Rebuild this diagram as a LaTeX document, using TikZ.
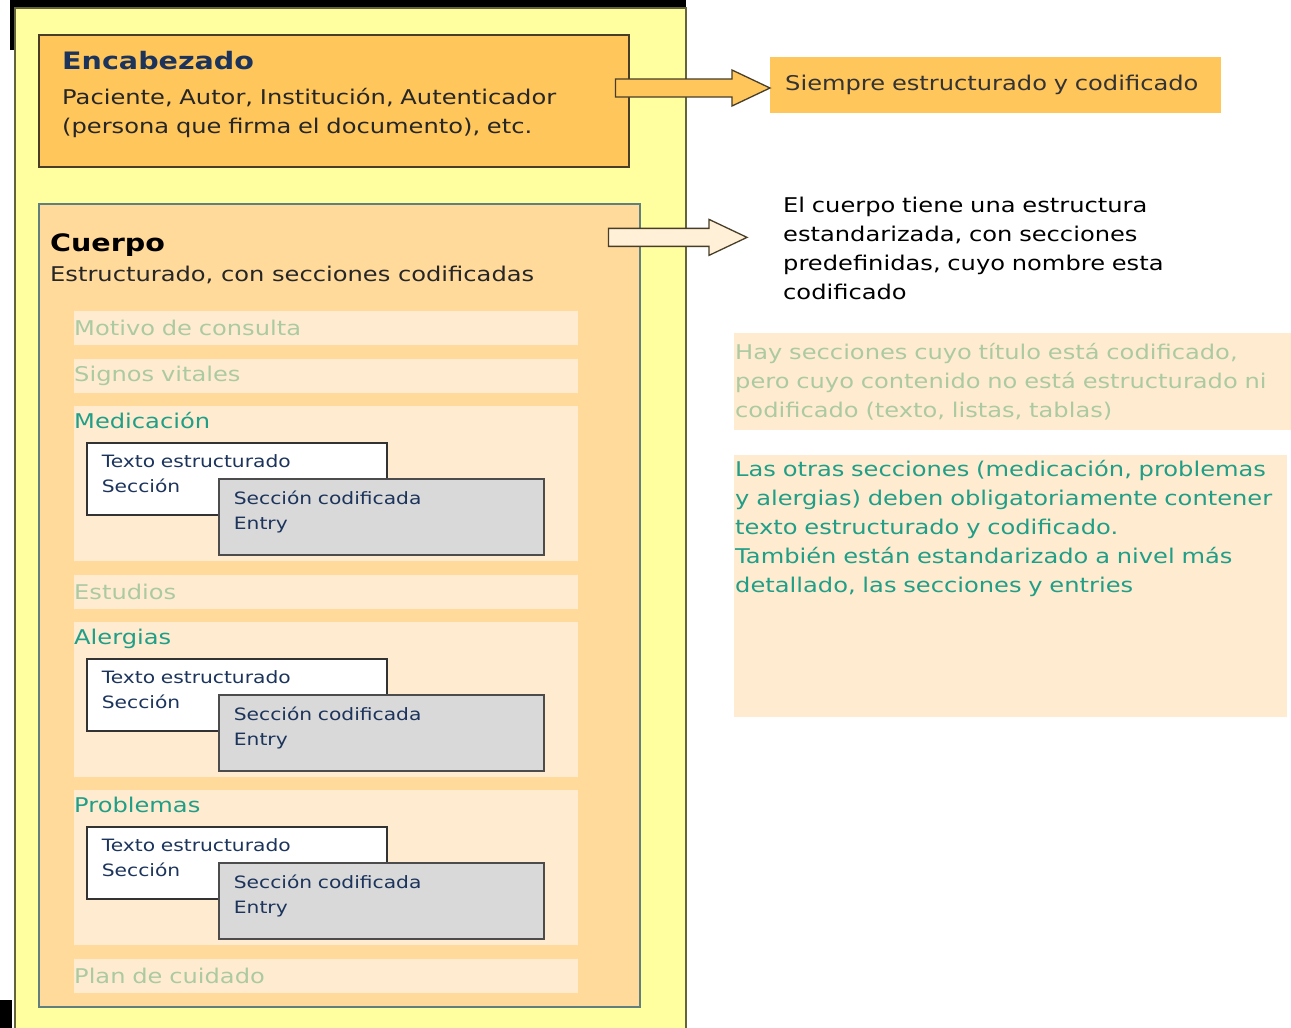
\documentclass[tikz,border=0pt]{standalone}
\usepackage{fontspec}
\setmainfont[FakeStretch=1.19]{DejaVu Sans}
\usetikzlibrary{positioning, calc}

\definecolor{pageyellow}{RGB}{255,255,160}
\definecolor{headorange}{RGB}{255,198,92}
\definecolor{bodyorange}{RGB}{255,218,155}
\definecolor{cream}{RGB}{255,236,208}
\definecolor{lightarrow}{RGB}{255,240,215}
\definecolor{paletext}{RGB}{172,202,162}
\definecolor{tealtext}{RGB}{32,158,135}
\definecolor{navytext}{RGB}{28,52,92}
\definecolor{boxgray}{RGB}{217,217,217}
\definecolor{edgebrown}{RGB}{72,62,40}
\definecolor{edgeteal}{RGB}{96,128,128}
\definecolor{edgeolive}{RGB}{100,100,60}

% fat block arrow from #2 to the tip #3
\newcommand\fatarrow[3]{%
  \draw[#1] ($(#2)+(0,-9)$) -- ($(#3)+(-38,-9)$) -- ($(#3)+(-38,-18)$) -- (#3)
    -- ($(#3)+(-38,18)$) -- ($(#3)+(-38,9)$) -- ($(#2)+(0,9)$) -- cycle;
}

\begin{document}
\begin{tikzpicture}[x=1pt, y=-1pt,
    every node/.style={inner sep=0pt},
    txt/.style={font=\fontsize{20.3}{29}\selectfont},
    heading/.style={font=\fontsize{24}{29}\selectfont\bfseries},
    small/.style={font=\fontsize{17}{24.5}\selectfont, text=navytext},
    band/.style={fill=cream, anchor=north west, minimum width=504pt},
    plainsec/.style={band, txt, text=paletext, minimum height=34pt, text width=504pt, align=left},
    sec/.style={band, minimum height=155pt},
    whitebox/.style={small, draw=black!80, fill=white, line width=1.8pt, anchor=north west,
      minimum height=72pt, text width=270pt, inner xsep=15pt, align=left},
    graybox/.style={whitebox, fill=boxgray, draw=black!70, minimum height=76pt, text width=295pt},
    arr/.style={draw=edgebrown, line width=1.3pt, line join=miter}]

  % page
  \useasboundingbox[fill=white] (0,0) rectangle (1291,1028);
  \fill (10,0) rectangle (686,10);
  \fill (10,0) rectangle (18,50);
  \fill (0,1000) rectangle (12,1028);
  \draw[fill=pageyellow, draw=edgeolive, line width=1.5pt] (15,8) rectangle (686,1032);

  % header
  \node[draw=edgebrown, fill=headorange, line width=1.5pt, anchor=north west,
    minimum width=590pt, minimum height=132pt] (enc) at (38,34) {};
  \node[heading, text=navytext, anchor=base west] (enct) at (62,69) {Encabezado};
  \node[txt, text=black!85, anchor=base west, text width=540pt, align=left] (encb) at (62,104)
    {Paciente, Autor, Institución, Autenticador\\(persona que firma el documento), etc.};

  % body
  \node[draw=edgeteal, fill=bodyorange, line width=1.5pt, anchor=north west,
    minimum width=601pt, minimum height=803pt] (cuerpo) at (38,203) {};
  \node[heading, anchor=base west] (cuerpot) at (50,251) {Cuerpo};
  \node[txt, text=black!85, anchor=base west] (cuerpob) at (50,281) {Estructurado, con secciones codificadas};

  \node[plainsec] (motivo) at (74,311) {Motivo de consulta};
  \node[plainsec] (signos) at (74,359) {Signos vitales};
  \node[plainsec] (estudios) at (74,575) {Estudios};
  \node[plainsec] (plan) at (74,959) {Plan de cuidado};

  \foreach \sname/\stitle/\sy in {med/Medicación/406, alergias/Alergias/622, problemas/Problemas/790}{
    \node[sec] (\sname) at (74,\sy) {};
    \node[txt, text=tealtext, anchor=base west] (\sname-t) at ($(\sname.north west)+(0,22)$) {\stitle};
    \node[whitebox] (\sname-txt) at ($(\sname.north west)+(12,36)$)
      {Texto estructurado\\Sección\rule[-11pt]{0pt}{1pt}};
    \node[graybox] (\sname-ent) at ($(\sname.north west)+(144,72)$)
      {Sección codificada\\Entry\rule[-13pt]{0pt}{1pt}};
  }

  % notes on the right
  \node[fill=headorange, anchor=west, minimum width=451pt, minimum height=56pt,
    txt, text=black!80, text width=421pt, inner xsep=15pt, align=left] (siempre) at (770,85)
    {\mbox{Siempre estructurado y codificado}};
  \node[txt, anchor=base west, text width=480pt, align=left] (cuerpodesc) at (783,212)
    {El cuerpo tiene una estructura\\estandarizada, con secciones\\predefinidas, cuyo nombre esta\\codificado};
  \node[fill=cream, anchor=north west, minimum height=97pt, txt, text=paletext,
    text width=555pt, inner xsep=1pt, align=left] (hay) at (734,333)
    {Hay secciones cuyo título está codificado,\\pero cuyo contenido no está estructurado ni\\codificado (texto, listas, tablas)};
  \node[fill=cream, anchor=north west, minimum width=553pt, minimum height=262pt] (otras) at (734,455) {};
  \node[txt, text=tealtext, anchor=base west, text width=600pt, align=left] (otrast) at (735,476)
    {Las otras secciones (medicación, problemas\\y alergias) deben obligatoriamente contener\\texto estructurado y codificado.\\También están estandarizado a nivel más\\detallado, las secciones y entries};

  % arrows
  \coordinate (tip1) at ($(siempre.west)+(0,3)$);
  \coordinate (tail1) at ($(tip1 -| enc.east)+(-14,0)$);
  \fatarrow{arr, fill=headorange}{tail1}{tip1}
  \coordinate (tip2) at ($(cuerpodesc.north west)+(-36,41)$);
  \coordinate (tail2) at ($(tip2 -| cuerpo.east)+(-32,0)$);
  \fatarrow{arr, fill=lightarrow}{tail2}{tip2}
\end{tikzpicture}
\end{document}
